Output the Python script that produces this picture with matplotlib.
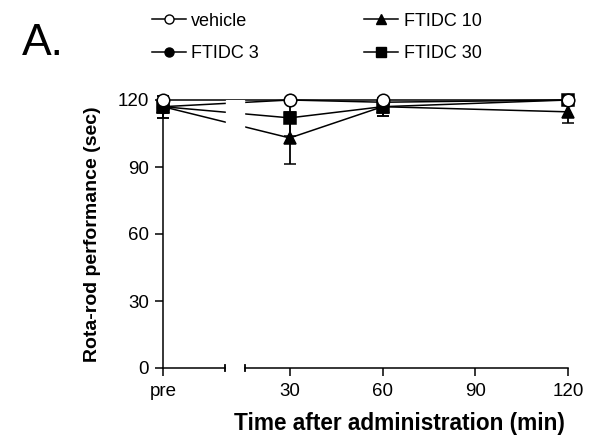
from matplotlib import pyplot as plt
from matplotlib.lines import Line2D
import matplotlib.transforms as mtransforms

plt.rcParams['font.family'] = ['Liberation Sans', 'DejaVu Sans']

# time points: pre, then minutes after administration
time_labels = ['pre', '30', '60', '90', '120']
time_min = [30, 60, 120]

vehicle = [120, 120, 120, 120]
vehicle_err = [0, 0, 0, 0]
ftidc_3 = [117, 120, 119, 120]
ftidc_3_err = [0, 0, 0, 0]
ftidc_10 = [117, 103, 117, 114.7]
ftidc_10_err = [5, 11.5, 4, 5]
ftidc_30 = [117, 112, 117, 120]
ftidc_30_err = [5, 8, 4, 0]

PRE_X = -11
BREAK = (9, 15.5)


def main():
    fig = plt.figure(figsize=(5.9, 4.41), dpi=100)
    ax = fig.add_axes([163 / 590, 73 / 441, 405 / 590, 268 / 441])

    x = [PRE_X] + time_min
    series = [
        (ftidc_30, ftidc_30_err, 's', 'black', 8),
        (ftidc_10, ftidc_10_err, '^', 'black', 8.5),
        (ftidc_3, ftidc_3_err, 'o', 'black', 8.5),
        (vehicle, vehicle_err, 'o', 'white', 9),
    ]
    for i, (vals, err, mk, fc, ms) in enumerate(series):
        ax.errorbar(x, vals, yerr=err,
                    color='black', lw=1.1, marker=mk, markersize=ms,
                    markerfacecolor=fc, markeredgecolor='black', markeredgewidth=1.1,
                    capsize=4.5, capthick=1.3, elinewidth=1.3, clip_on=False,
                    zorder=3 + i)

    # white gap for the axis break
    ax.axvspan(BREAK[0] + 0.3, BREAK[1] - 0.3, color='white', zorder=10)

    ax.set_xlim(PRE_X, 120)
    ax.set_ylim(0, 120)
    ax.set_yticks([0, 30, 60, 90, 120])
    ax.set_xticks([PRE_X, 30, 60, 90, 120])
    ax.set_xticklabels(time_labels)

    ax.spines['top'].set_visible(False)
    ax.spines['right'].set_visible(False)
    ax.spines['bottom'].set_visible(False)
    ax.spines['left'].set_linewidth(1.1)
    ax.tick_params(axis='both', direction='out', length=6, width=1.1,
                   labelsize=13.5, colors='black')
    ax.tick_params(axis='x', pad=5)
    ax.tick_params(axis='y', pad=4)
    ax.get_xticklabels()[0].set_x(PRE_X)

    # broken x axis
    trans = mtransforms.blended_transform_factory(ax.transData, ax.transAxes)
    for x0, x1 in [(PRE_X, BREAK[0]), (BREAK[1], 120)]:
        ax.add_line(Line2D([x0, x1], [0, 0], transform=trans, color='black',
                           lw=1.1, clip_on=False, zorder=11))
    for xb in BREAK:
        ax.add_line(Line2D([xb, xb], [-0.013, 0.013], transform=trans, color='black',
                           lw=1.3, clip_on=False, zorder=11))

    ax.set_ylabel('Rota-rod performance (sec)', fontsize=14, fontweight='bold')
    ax.yaxis.set_label_coords(-0.152, 0.5)
    ax.set_xlabel('Time after administration (min)', fontsize=16.3, fontweight='bold')
    ax.xaxis.set_label_coords(0.585, -0.165)

    handles = [
        Line2D([], [], color='black', lw=1.1, marker='o', markersize=6.5,
               markerfacecolor='white', markeredgecolor='black'),
        Line2D([], [], color='black', lw=1.1, marker='o', markersize=6.5,
               markerfacecolor='black'),
        Line2D([], [], color='black', lw=1.1, marker='^', markersize=6.5,
               markerfacecolor='black'),
        Line2D([], [], color='black', lw=1.1, marker='s', markersize=6.5,
               markerfacecolor='black'),
    ]
    labels = ['vehicle', 'FTIDC 3', 'FTIDC 10', 'FTIDC 30']
    fig.legend(handles, labels, loc='upper left', bbox_to_anchor=(139 / 590, 1 - 0 / 441),
               ncol=2, frameon=False, fontsize=13, handlelength=1.9, handletextpad=0.3,
               columnspacing=5.8, labelspacing=0.85, borderpad=0.2)

    fig.text(22 / 590, 1 - 55 / 441, 'A.', fontsize=32, ha='left', va='baseline')

    fig.savefig('out.png', dpi=100)


if __name__ == "__main__":
    main()
